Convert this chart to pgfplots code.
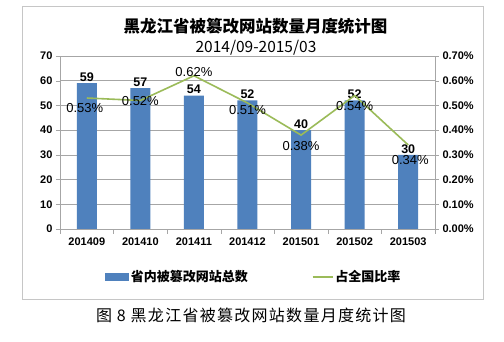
\documentclass[border=0pt]{standalone}
\usepackage{fontspec}
\setmainfont{Liberation Sans}
\newfontfamily\cjk{Noto Sans CJK SC}
\newfontfamily\cjkspaced{Noto Sans CJK SC}[LetterSpace=8]
\usepackage{pgfplots}
\pgfplotsset{compat=1.18}
\usepackage{pgfplotstable}
\definecolor{barblue}{HTML}{4F81BD}
\definecolor{linegreen}{HTML}{9BBB59}
\definecolor{gridgray}{HTML}{A6A6A6}
\pgfplotstableread{
x n r dy dx
0 59 0.53 -10 -2
1 57 0.52 -1 0
2 54 0.62 4 0
3 52 0.51 -7 0
4 40 0.38 -11 0
5 52 0.54 -10 0
6 30 0.34 -15 2
}\datatable
\begin{document}
\begin{tikzpicture}[x=1pt,y=1pt]
\useasboundingbox[fill=white] (0,0) rectangle (504,342);
\draw[gray!45, line width=0.8pt] (22,43) rectangle (483,336);
\node[font=\cjk\fontsize{16.5}{18}\selectfont\bfseries] at (255.5,316) {黑龙江省被篡改网站数量月度统计图};
\node[font=\cjk\fontsize{15.5}{17}\selectfont] at (256,294) {2014/09-2015/03};
\node[font=\cjkspaced\fontsize{16}{18}\selectfont] at (251,27) {图 8 黑龙江省被篡改网站数量月度统计图};
\begin{axis}[
  at={(60pt,113pt)}, anchor=south west,
  scale only axis, width=375pt, height=173pt,
  xmin=-0.5, xmax=6.5, ymin=0, ymax=70,
  ytick={0,10,...,70},
  xtick={0,...,6},
  xticklabels={201409,201410,201411,201412,201501,201502,201503},
  minor xtick={-0.5,0.5,...,6.5},
  major x tick style={draw=none},
  minor x tick style={draw=gridgray},
  minor tick length=5pt,
  axis x line*=bottom, axis y line*=left,
  axis line style={draw=gridgray, -},
  tick align=outside,
  ytick style={draw=gridgray},
  major tick length=4pt,
  ymajorgrids, grid style={draw=gridgray, line width=0.6pt},
  tick label style={font=\fontsize{11}{12}\selectfont\bfseries},
  /pgf/number format/assume math mode=true,
  xticklabel style={yshift=-1pt},
]
\addplot[ybar, bar width=20pt, fill=barblue, draw=none,
  nodes near coords, point meta=explicit symbolic,
  every node near coord/.append style={font=\fontsize{12.5}{14}\selectfont\bfseries, anchor=south, inner sep=1.5pt, text=black}]
  table[x=x, y=n, meta=n] {\datatable};
\end{axis}
\begin{axis}[
  at={(60pt,113pt)}, anchor=south west,
  scale only axis, width=375pt, height=173pt,
  xmin=-0.5, xmax=6.5, ymin=0, ymax=0.7,
  ytick={0,0.1,...,0.7},
  yticklabel={\pgfmathprintnumber[fixed, fixed zerofill, precision=2]{\tick}\%},
  axis x line=none, axis y line*=right,
  axis line style={draw=gridgray, -},
  ytick style={draw=gridgray},
  tick align=outside, major tick length=4pt,
  tick label style={font=\fontsize{11}{12}\selectfont\bfseries},
  /pgf/number format/assume math mode=true,
  legend style={at={(0.517,-0.277)}, anchor=center, draw=none, fill=none,
    legend columns=2, font=\cjk\fontsize{13}{15}\selectfont\bfseries,
    /tikz/every even column/.append style={column sep=62pt},
    cells={anchor=west}},
]
\addlegendimage{legend image code/.code={\fill[barblue] (0pt,-3.5pt) rectangle (23pt,3.5pt);}}
\addlegendentry{省内被篡改网站总数}
\addplot[linegreen, line width=1.6pt, mark=none,
  legend image code/.code={\draw[linegreen, line width=1.6pt] (0pt,0pt) -- (20pt,0pt);},
  nodes near coords={\pgfmathprintnumber[fixed, fixed zerofill, precision=2]{\pgfplotspointmeta}\%},
  point meta=explicit,
  visualization depends on={\thisrow{dy} \as \dyv},
  visualization depends on={\thisrow{dx} \as \dxv},
  every node near coord/.append style={font=\fontsize{13}{14}\selectfont, anchor=center, text=black, yshift=\dyv pt, xshift=\dxv pt, /pgf/number format/assume math mode=true}]
  table[x=x, y=r, meta=r] {\datatable};
\addlegendentry{占全国比率}
\end{axis}
\end{tikzpicture}
\end{document}
